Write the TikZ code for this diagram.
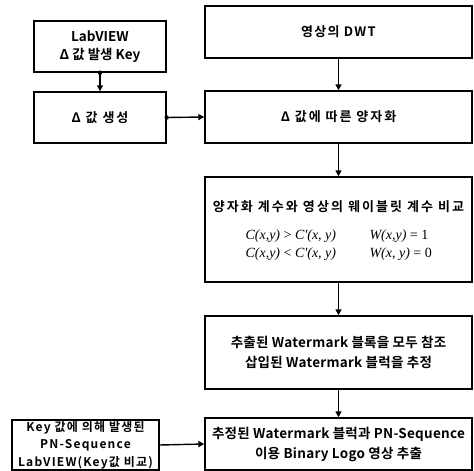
\documentclass[tikz,border=0pt]{standalone}
\usepackage{fontspec}
\setmainfont{Noto Sans CJK KR}[BoldFont={Noto Sans CJK KR Bold}]
\newfontfamily\mathserif{Liberation Serif}
\usetikzlibrary{arrows.meta}
\begin{document}
\begin{tikzpicture}[x=1pt,y=-1pt,
  box/.style={draw,line width=1.4pt,rectangle,inner sep=0pt,align=center,font=\fontsize{13}{18}\selectfont\bfseries},
  arr/.style={line width=1.4pt,-{Triangle[length=6pt,width=6pt]}},
  dotstart/.style={fill,circle,inner sep=0pt,minimum size=4.5pt},
  formula/.style={font=\fontsize{14}{16}\selectfont\mathserif\itshape,anchor=west}]
\useasboundingbox (0,0) rectangle (474,471);
\node[box,minimum width=132pt,minimum height=51pt,font=\fontsize{13.5}{18}\selectfont\bfseries] (A) at (100,46.5) {LabVIEW\\Δ 값 발생 Key};
\node[box,minimum width=132pt,minimum height=51pt,font=\fontsize{13}{18}\selectfont\bfseries\addfontfeature{LetterSpace=15}] (B) at (100,117.5) {Δ 값 생성};
\node[box,minimum width=147pt,minimum height=50pt,font=\fontsize{12}{17.5}\selectfont\bfseries\addfontfeature{LetterSpace=10}] (H) at (85.5,445) {Key 값에 의해 발생된\\PN-Sequence\\LabVIEW(Key값 비교)};
\node[box,minimum width=267pt,minimum height=52pt,font=\fontsize{13}{18}\selectfont\bfseries\addfontfeature{LetterSpace=10}] (C) at (338.5,32) {영상의 DWT};
\node[box,minimum width=267pt,minimum height=52pt,font=\fontsize{13}{18}\selectfont\bfseries\addfontfeature{LetterSpace=15}] (D) at (338.5,117) {Δ 값에 따른 양자화};
\node[box,minimum width=267pt,minimum height=105pt] (E) at (338.5,229.5) {};
\node[font=\fontsize{13}{15}\selectfont\bfseries\addfontfeature{LetterSpace=16}] (Et) at (338.5,207) {양자화 계수와 영상의 웨이블릿 계수 비교};
\node[formula] (Ef1) at (242,236) {C(x,y) \upshape{>} \itshape C'(x, y)};
\node[formula] (Ef2) at (242,254) {C(x,y) \upshape{<} \itshape C'(x, y)};
\node[formula] (Eg1) at (366,236) {W(x,y) \upshape{= 1}};
\node[formula] (Eg2) at (366,254) {W(x, y) \upshape{= 0}};
\node[box,minimum width=267pt,minimum height=73pt,font=\fontsize{13.5}{20}\selectfont\bfseries\addfontfeature{LetterSpace=2}] (F) at (338.5,352.5) {추출된 Watermark 블록을 모두 참조\\삽입된 Watermark 블럭을 추정};
\node[box,minimum width=267pt,minimum height=52pt,font=\fontsize{13.5}{20}\selectfont\bfseries\addfontfeature{LetterSpace=2}] (G) at (338.5,444) {추정된 Watermark 블럭과 PN-Sequence\\이용 Binary Logo 영상 추출};
\draw[arr] (A.south) -- (B.north);
\node[dotstart] (dA) at (A.south) {};
\draw[arr] (B.east) -- (D.west);
\node[dotstart] (dB) at (B.east) {};
\draw[arr] (C.south) -- (D.north);
\draw[arr] (D.south) -- (E.north);
\draw[arr] (E.south) -- (F.north);
\draw[arr] (F.south) -- (G.north);
\draw[arr] (H.east) -- (G.west);
\end{tikzpicture}
\end{document}
